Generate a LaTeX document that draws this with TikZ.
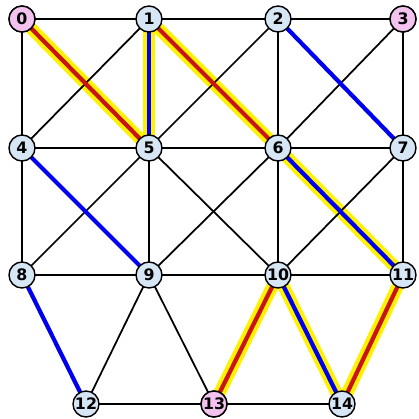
\documentclass[tikz,border=0pt]{standalone}
\usepackage{fontspec}
\setsansfont{DejaVu Sans}
\definecolor{vLightBlue}{HTML}{D6E6F5}
\definecolor{vPink}{HTML}{F4C2EE}
\definecolor{eYellow}{HTML}{FFF200}
\definecolor{eRed}{HTML}{C81414}
\definecolor{eBlue}{HTML}{0000F0}
\usepackage{tikz}
\usetikzlibrary{positioning,backgrounds}

\begin{document}
\begin{tikzpicture}[x=0.02cm,y=-0.02cm,
  vtx/.style={circle, draw, line width=0.8pt, fill=vLightBlue, minimum size=0.52cm, inner sep=0pt, font=\sffamily\bfseries\small},
  term/.style={vtx, fill=vPink},
  edge/.style={line width=1pt},
  glow/.style={eYellow, line width=7pt},
  redge/.style={eRed, line width=2.4pt},
  bedge/.style={eBlue, line width=2.4pt}]
\useasboundingbox (0,0) rectangle (419,419);
% vertices, row by row
\foreach \v/\x/\y in {0/22/19,1/149/19,2/278/19,3/403/19,
  4/22/148,5/149/148,6/278/148,7/403/148,
  8/22/275,9/149/275,10/278/275,11/403/275,
  12/86/404,13/214/404,14/342/404}
  \node[vtx] (n\v) at (\x,\y) {\v};
% terminals in pink
\foreach \v in {0,3,13}
  \node[term] at (n\v) {\v};
\begin{scope}[on background layer]
% highlighted paths (yellow underlay)
\foreach \a/\b in {0/5,1/5,1/6,6/11,10/13,10/14,11/14}
  \draw[glow] (n\a.center) -- (n\b.center);
% plain edges
\foreach \a/\b in {0/1,1/2,2/3,0/4,3/7,4/5,5/6,6/7,4/8,7/11,8/9,9/10,10/11,
  12/13,13/14,1/4,2/5,2/6,3/6,5/9,6/10,5/8,5/10,6/9,7/10,9/12,9/13}
  \draw[edge] (n\a.center) -- (n\b.center);
% red and blue edges
\foreach \a/\b in {0/5,1/6,10/13,11/14}
  \draw[redge] (n\a.center) -- (n\b.center);
\foreach \a/\b in {1/5,6/11,10/14,2/7,4/9,8/12}
  \draw[bedge] (n\a.center) -- (n\b.center);
\end{scope}
\end{tikzpicture}
\end{document}
